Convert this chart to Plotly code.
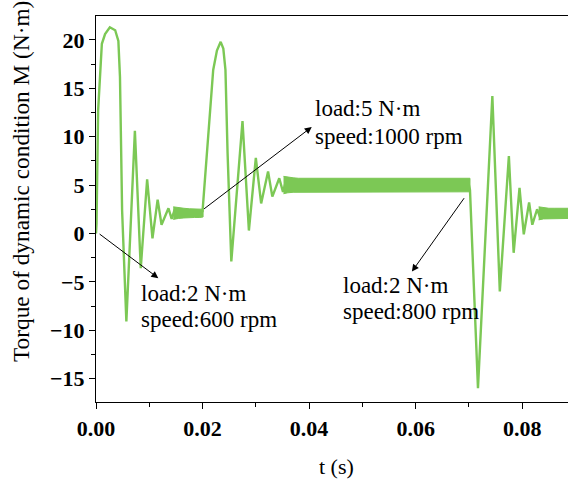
import plotly.graph_objects as go

# Transient torque response: turning points of the oscillations (t in s, M in N·m)
t_main = [0.0000, 0.0001, 0.0004, 0.0011, 0.0017, 0.0026, 0.0036, 0.0042, 0.0045,
          0.0049, 0.0057, 0.0073, 0.0084, 0.0096, 0.0106, 0.01157, 0.0123, 0.0136,
          0.0142, 0.0148, 0.0154, 0.0160,
          0.0200, 0.0208, 0.0214, 0.0220, 0.0227, 0.0234, 0.0239, 0.0243, 0.0247,
          0.0254, 0.0275, 0.0287, 0.0300, 0.0310, 0.0323, 0.0331, 0.0344, 0.0351,
          0.0357, 0.0362,
          0.0700, 0.0702, 0.0717, 0.0744, 0.0758, 0.0775, 0.0784, 0.0795, 0.0803,
          0.0813, 0.0819, 0.0828, 0.0834]
m_main = [0.0, 1.0, 12.7, 19.6, 20.6, 21.3, 21.0, 19.9, 16.2,
          2.4, -9.1, 10.6, -3.6, 5.6, -0.5, 3.5, 0.9, 2.6,
          1.5, 2.5, 1.7, 2.2,
          2.3, 8.3, 13.4, 16.9, 18.9, 19.8, 19.1, 16.9, 8.3,
          -2.9, 11.6, 0.3, 7.8, 3.1, 6.4, 3.8, 5.7, 4.3,
          5.5, 4.6,
          5.0, 4.5, -16.0, 14.2, -6.0, 8.0, -2.0, 4.7, -0.1,
          3.2, 0.9, 2.5, 1.6]

# Steady-state ripple bands: upper and lower envelopes
band1_t = [0.0145, 0.0155, 0.0165, 0.0175, 0.0185, 0.0195, 0.0201]
band1_hi = [2.75, 2.65, 2.6, 2.55, 2.55, 2.5, 2.5]
band1_lo = [1.45, 1.55, 1.6, 1.65, 1.65, 1.65, 1.7]

band2_t = [0.0352, 0.0360, 0.0370, 0.0380, 0.0400, 0.0450, 0.0500, 0.0550,
           0.0600, 0.0650, 0.0702]
band2_hi = [5.9, 5.8, 5.75, 5.7, 5.7, 5.7, 5.7, 5.7, 5.7, 5.7, 5.7]
band2_lo = [4.1, 4.2, 4.25, 4.3, 4.3, 4.3, 4.3, 4.3, 4.3, 4.3, 4.3]

band3_t = [0.0831, 0.0840, 0.0850, 0.0860, 0.0875, 0.0890]
band3_hi = [2.75, 2.65, 2.6, 2.6, 2.6, 2.6]
band3_lo = [1.4, 1.5, 1.55, 1.55, 1.55, 1.55]

x_ticks = [0.00, 0.02, 0.04, 0.06, 0.08]
y_ticks = [-15, -10, -5, 0, 5, 10, 15, 20]

GREEN = "#7cc855"
SERIF = "Liberation Serif"

fig = go.Figure()

fig.add_trace(go.Scatter(
    x=t_main, y=m_main, mode="lines",
    line=dict(color=GREEN, width=2.4),
    hoverinfo="skip", showlegend=False,
))

for bt, hi, lo in [(band1_t, band1_hi, band1_lo),
                   (band2_t, band2_hi, band2_lo),
                   (band3_t, band3_hi, band3_lo)]:
    fig.add_trace(go.Scatter(
        x=bt + bt[::-1], y=hi + lo[::-1], mode="lines",
        fill="toself", fillcolor=GREEN,
        line=dict(color=GREEN, width=1),
        hoverinfo="skip", showlegend=False,
    ))

annotations = []

# Arrows pointing from the operating-point changes to their captions
arrows = [
    ((0.0004, 0.05), (0.0117, -4.62)),
    ((0.0200, 2.42), (0.0405, 11.0)),
    ((0.0693, 3.8), (0.0593, -3.94)),
]
for (tx, ty), (hx, hy) in arrows:
    annotations.append(dict(
        x=hx, y=hy, ax=tx, ay=ty, xref="x", yref="y", axref="x", ayref="y",
        text="", showarrow=True, arrowhead=2, arrowsize=1.4, arrowwidth=1,
        arrowcolor="black", standoff=0, startstandoff=0,
    ))

captions = [
    (0.0081, -6.2, "load:2 N·m"),
    (0.0081, -8.9, "speed:600 rpm"),
    (0.0407, 12.9, "load:5 N·m"),
    (0.0407, 10.0, "speed:1000 rpm"),
    (0.0460, -5.4, "load:2 N·m"),
    (0.0460, -8.1, "speed:800 rpm"),
]
for cx, cy, txt in captions:
    annotations.append(dict(
        x=cx, y=cy, xref="x", yref="y", text=txt, showarrow=False,
        xanchor="left", yanchor="middle",
        font=dict(family=SERIF, size=23, color="black"),
    ))

annotations.append(dict(
    x=0.51, y=-0.166, xref="paper", yref="paper", text="t (s)",
    showarrow=False, xanchor="center", yanchor="middle",
    font=dict(family=SERIF, size=22, color="black"),
))
annotations.append(dict(
    x=-0.1574, y=0.5718, xref="paper", yref="paper",
    text="Torque of dynamic condition M (N·m)", textangle=-90,
    showarrow=False, xanchor="center", yanchor="middle",
    font=dict(family=SERIF, size=23.3, color="black"),
))

fig.update_layout(
    width=568, height=480,
    margin=dict(l=96, r=0, t=16, b=78, autoexpand=False),
    paper_bgcolor="white", plot_bgcolor="white",
    annotations=annotations,
    xaxis=dict(
        range=[0, 0.0886], tickvals=x_ticks, tickformat=".2f",
        showgrid=False, zeroline=False,
        showline=True, linecolor="black", linewidth=1.3, mirror=True,
        ticks="outside", ticklen=6, tickwidth=1.3, tickcolor="black",
        minor=dict(dtick=0.01, ticks="outside", ticklen=4, tickwidth=1.3,
                   tickcolor="black", showgrid=False),
        tickfont=dict(family=SERIF, size=22, color="black", weight="bold"),
    ),
    yaxis=dict(
        range=[-17.42, 22.47], tickvals=y_ticks,
        showgrid=False, zeroline=False,
        showline=True, linecolor="black", linewidth=1.3, mirror=False,
        ticks="outside", ticklen=6, tickwidth=1.3, tickcolor="black",
        minor=dict(dtick=2.5, ticks="outside", ticklen=4, tickwidth=1.3,
                   tickcolor="black", showgrid=False),
        tickfont=dict(family=SERIF, size=22, color="black", weight="bold"),
    ),
)

fig.write_html("out.html")
